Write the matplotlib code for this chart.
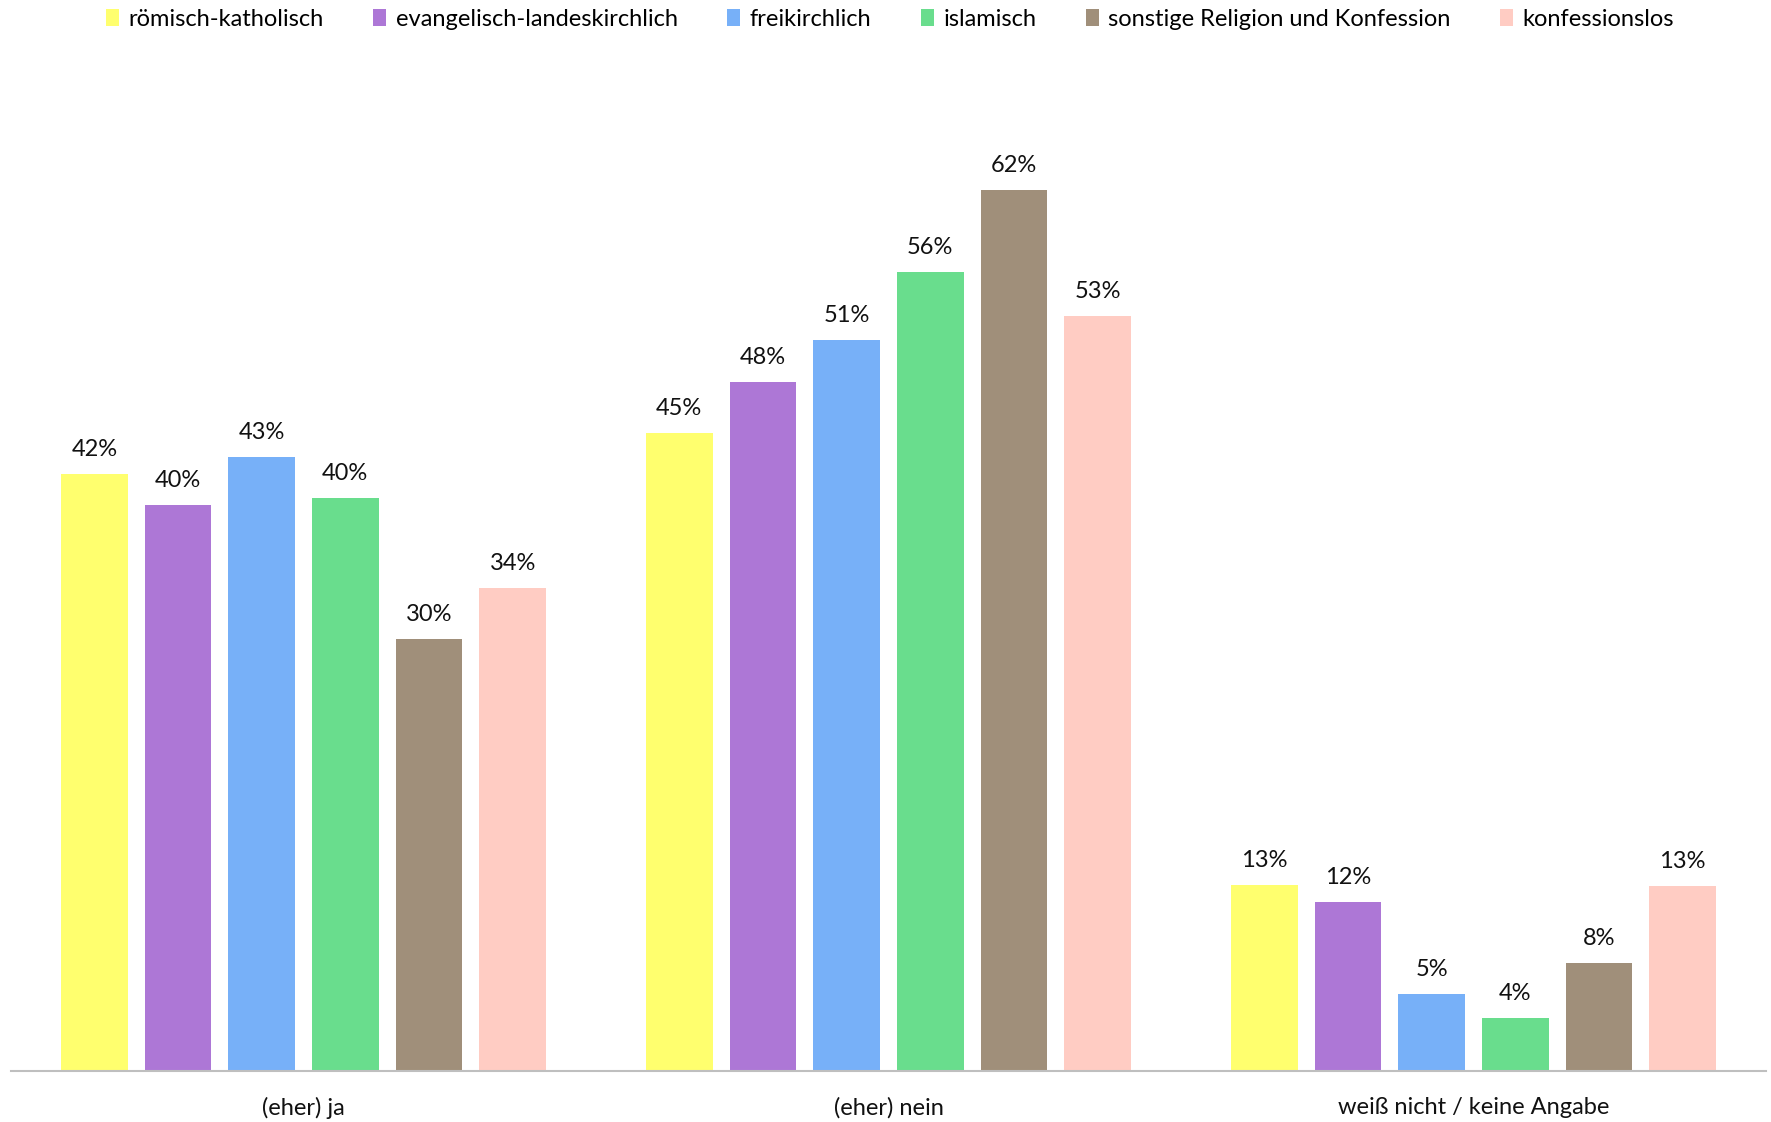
import matplotlib
matplotlib.use("Agg")
import matplotlib.pyplot as plt
import numpy as np

plt.rcParams['font.family'] = ['Lato', 'DejaVu Sans']

categories = ["(eher) ja", "(eher) nein", "weiß nicht / keine Angabe"]
series_names = ["römisch-katholisch", "evangelisch-landeskirchlich", "freikirchlich",
                "islamisch", "sonstige Religion und Konfession", "konfessionslos"]
roemisch = [42.0, 44.9, 13.1]
evangelisch = [39.8, 48.5, 11.9]
freikirchlich = [43.2, 51.4, 5.4]
islamisch = [40.3, 56.2, 3.7]
sonstige = [30.4, 62.0, 7.6]
konfessionslos = [34.0, 53.1, 13.0]
values = [roemisch, evangelisch, freikirchlich, islamisch, sonstige, konfessionslos]
colors = ["#FFFF6E", "#AD77D6", "#77B0F8", "#69DD8D", "#A08F7A", "#FFCCC3"]

W, H = 1771, 1122
fig = plt.figure(figsize=(W / 100, H / 100), dpi=100)
ax = fig.add_axes([11 / W, 1 - 1071 / H, (1766 - 11) / W, (1071 - 76) / H])

x = np.arange(len(categories))
bw = 0.114
step = 0.143
n = len(values)
handles = []
for i, (vals, c) in enumerate(zip(values, colors)):
    offs = (i - (n - 1) / 2) * step
    bars = ax.bar(x + offs, vals, width=bw, color=c, label=series_names[i], zorder=2)
    handles.append(bars)
    for xi, v in zip(x + offs, vals):
        ax.annotate(f"{v:.0f}%", (xi, v), xytext=(0, 13), textcoords="offset points",
                    ha="center", va="baseline", fontsize=17, color="#111111")

ax.set_xlim(-0.5, 2.5)
ax.set_ylim(0, 70)
ax.set_yticks([])
ax.set_xticks(x)
ax.set_xticklabels(categories, fontsize=17, color="#111111")
ax.tick_params(axis='x', length=0, pad=19)
for s in ["top", "right", "left"]:
    ax.spines[s].set_visible(False)
ax.spines["bottom"].set_color("#BFBFBF")
ax.spines["bottom"].set_linewidth(1.5)
ax.spines["bottom"].set_zorder(3)

fig.legend(handles=handles, labels=series_names, loc="center", bbox_to_anchor=(890 / W, 1 - 19 / H),
           ncol=6, frameon=False, fontsize=17, handlelength=0.55, handleheight=0.7,
           handletextpad=0.4, columnspacing=2.1, borderpad=0)

fig.savefig("out.png", dpi=100)
